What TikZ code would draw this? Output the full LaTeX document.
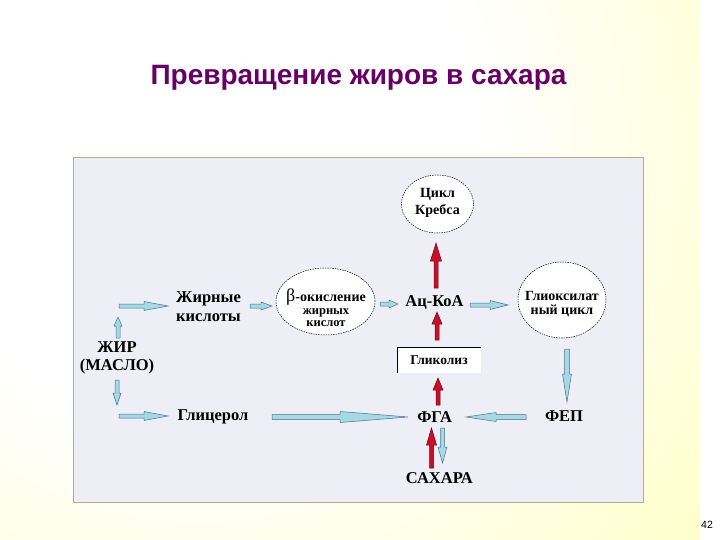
\documentclass[tikz,border=0pt]{standalone}
\usepackage{fontspec}
\setmainfont{Liberation Serif}
\newfontfamily\titlefont{Liberation Sans}
\usetikzlibrary{calc,shapes.geometric}
\definecolor{bgy}{RGB}{255,255,155}
\definecolor{panelfill}{RGB}{238,238,247}
\definecolor{panelline}{RGB}{175,175,140}
\definecolor{titlecol}{RGB}{102,0,102}
\definecolor{abfill}{RGB}{166,216,230}
\definecolor{abline}{RGB}{70,115,135}
\definecolor{arfill}{RGB}{200,16,40}
\definecolor{arline}{RGB}{110,0,20}
\pgfdeclareradialshading{bgshade}{\pgfpoint{0bp}{0bp}}{color(0bp)=(white);color(14bp)=(white);color(48bp)=(bgy);color(100bp)=(bgy)}
% block arrow: style, from, to, shaft half-width, head half-width, head length
\newcommand\barr[6]{%
  \filldraw[#1] ($(#2)!#4!90:(#3)$) -- ($(#3)!#6!(#2)!#4!-90:(#2)$)
    -- ($(#3)!#6!(#2)!#5!-90:(#2)$) -- (#3)
    -- ($(#3)!#6!(#2)!#5!90:(#2)$) -- ($(#3)!#6!(#2)!#4!90:(#2)$)
    -- ($(#2)!#4!-90:(#3)$) -- cycle;}
\begin{document}
\begin{tikzpicture}[x=1pt,y=-1pt,
  lbl/.style={font=\fontsize{16.5}{19}\selectfont\bfseries, inner sep=0pt, align=center},
  ell/.style={ellipse, draw, fill=white, line width=0.5pt, dash pattern=on 1.5pt off 1pt, inner sep=0pt},
  etxt/.style={font=\fontsize{14}{13.5}\selectfont\bfseries, inner sep=0pt, align=center},
  bluea/.style={fill=abfill, draw=abline, line width=0.5pt, line join=miter},
  reda/.style={fill=arfill, draw=arline, line width=0.5pt, line join=miter}]
\useasboundingbox (0,0) rectangle (720,540);
\begin{scope}
  \clip (0,0) rectangle (720,540);
  \shade[shading=bgshade] (-300,-350) rectangle (700,650);
\end{scope}
\draw[draw=panelline, fill=panelfill, line width=0.8pt] (73,157) rectangle (643,502);

\node[font=\titlefont\fontsize{28}{30}\selectfont\bfseries, text=titlecol, anchor=base, inner sep=0pt] (title) at (358.5,84.5) {Превращение жиров в сахара};
\node[font=\titlefont\fontsize{10.5}{12}\selectfont, anchor=base, inner sep=0pt] (pnum) at (707,528.5) {42};

% ellipses
\node[ell, minimum width=72pt, minimum height=58pt] (kreb) at (437.5,204) {};
\node[etxt, font=\fontsize{14}{17.5}\selectfont\bfseries] (krebt) at (437.5,203) {Цикл\\Кребса};
\node[ell, minimum width=99pt, minimum height=67pt] (beta) at (325.5,301.5) {};
\node[etxt, font=\fontsize{12.5}{12.5}\selectfont\bfseries] (betat) at (326,308) {{\fontsize{18}{14}\selectfont\mdseries β}{\fontsize{14}{14}\selectfont -окисление}\\жирных\\кислот};
\node[ell, minimum width=88pt, minimum height=76pt] (glyox) at (562,300) {};
\node[etxt] (glyoxt) at (562,304) {Глиоксилат\\ный цикл};

% text nodes
\node[lbl] (acoa) at (434.5,302) {Ац-КоА};
\node[fill=white, minimum width=84pt, minimum height=26pt, inner sep=0pt, font=\fontsize{13.5}{14}\selectfont\bfseries] (glyk) at (439,360) {Гликолиз};
\draw[line width=0.6pt] (glyk.south west) -- (glyk.north west) -- (glyk.north east);
\node[lbl] (fga) at (434.7,417) {ФГА};
\node[lbl] (fep) at (564,416) {ФЕП};
\node[lbl] (sugar) at (439.3,478) {САХАРА};
\node[lbl, font=\fontsize{16.5}{18}\selectfont\bfseries] (zhir) at (117,358) {ЖИР\\(МАСЛО)};
\node[lbl, align=left, anchor=west, font=\fontsize{16.5}{19}\selectfont\bfseries] (fatac) at (176,306.5) {Жирные\\кислоты};
\node[lbl] (glyc) at (213,417) {Глицерол};

% arrow end points
\coordinate (a1s) at (119,306);  \coordinate (a1e) at (168,306);
\coordinate (a2s) at (250,306);  \coordinate (a2e) at (272,306);
\coordinate (a3s) at (380,304);  \coordinate (a3e) at (398,304);
\coordinate (a4s) at (470,305);  \coordinate (a4e) at (508,305);
\coordinate (a5s) at (567,349);  \coordinate (a5e) at (567,402);
\coordinate (a6s) at (526,417);  \coordinate (a6e) at (466,417);
\coordinate (a7s) at (272,417);  \coordinate (a7e) at (408,417);
\coordinate (a8s) at (436,288);  \coordinate (a8e) at (436,243);
\coordinate (a9s) at (437,340);  \coordinate (a9e) at (437,312);
\coordinate (a10s) at (438,405); \coordinate (a10e) at (438,378);
\coordinate (a11s) at (431.5,468); \coordinate (a11e) at (431.5,428);
\coordinate (a12s) at (442.5,428); \coordinate (a12e) at (442.5,463);
\coordinate (a13s) at (118,338); \coordinate (a13e) at (118,317);
\coordinate (a14s) at (117,380); \coordinate (a14e) at (117,405);
\coordinate (a15s) at (119,416); \coordinate (a15e) at (168,416);

\barr{bluea}{a1s}{a1e}{2pt}{4.5pt}{24pt}
\barr{bluea}{a2s}{a2e}{2pt}{4pt}{11pt}
\barr{bluea}{a3s}{a3e}{2pt}{4pt}{9pt}
\barr{bluea}{a4s}{a4e}{2pt}{4.5pt}{18pt}
\barr{bluea}{a5s}{a5e}{2.5pt}{4.5pt}{28pt}
\barr{bluea}{a6s}{a6e}{2.5pt}{4.5pt}{30pt}
\barr{bluea}{a7s}{a7e}{2.5pt}{5.5pt}{68pt}
\barr{reda}{a8s}{a8e}{2pt}{5.5pt}{18pt}
\barr{reda}{a9s}{a9e}{2pt}{5pt}{12pt}
\barr{reda}{a10s}{a10e}{2pt}{5pt}{12pt}
\barr{reda}{a11s}{a11e}{2pt}{5pt}{17pt}
\barr{bluea}{a12s}{a12e}{2pt}{4.5pt}{16pt}
\barr{bluea}{a13s}{a13e}{2pt}{4pt}{9pt}
\barr{bluea}{a14s}{a14e}{2pt}{4pt}{12pt}
\barr{bluea}{a15s}{a15e}{2pt}{4.5pt}{24pt}
\end{tikzpicture}
\end{document}
